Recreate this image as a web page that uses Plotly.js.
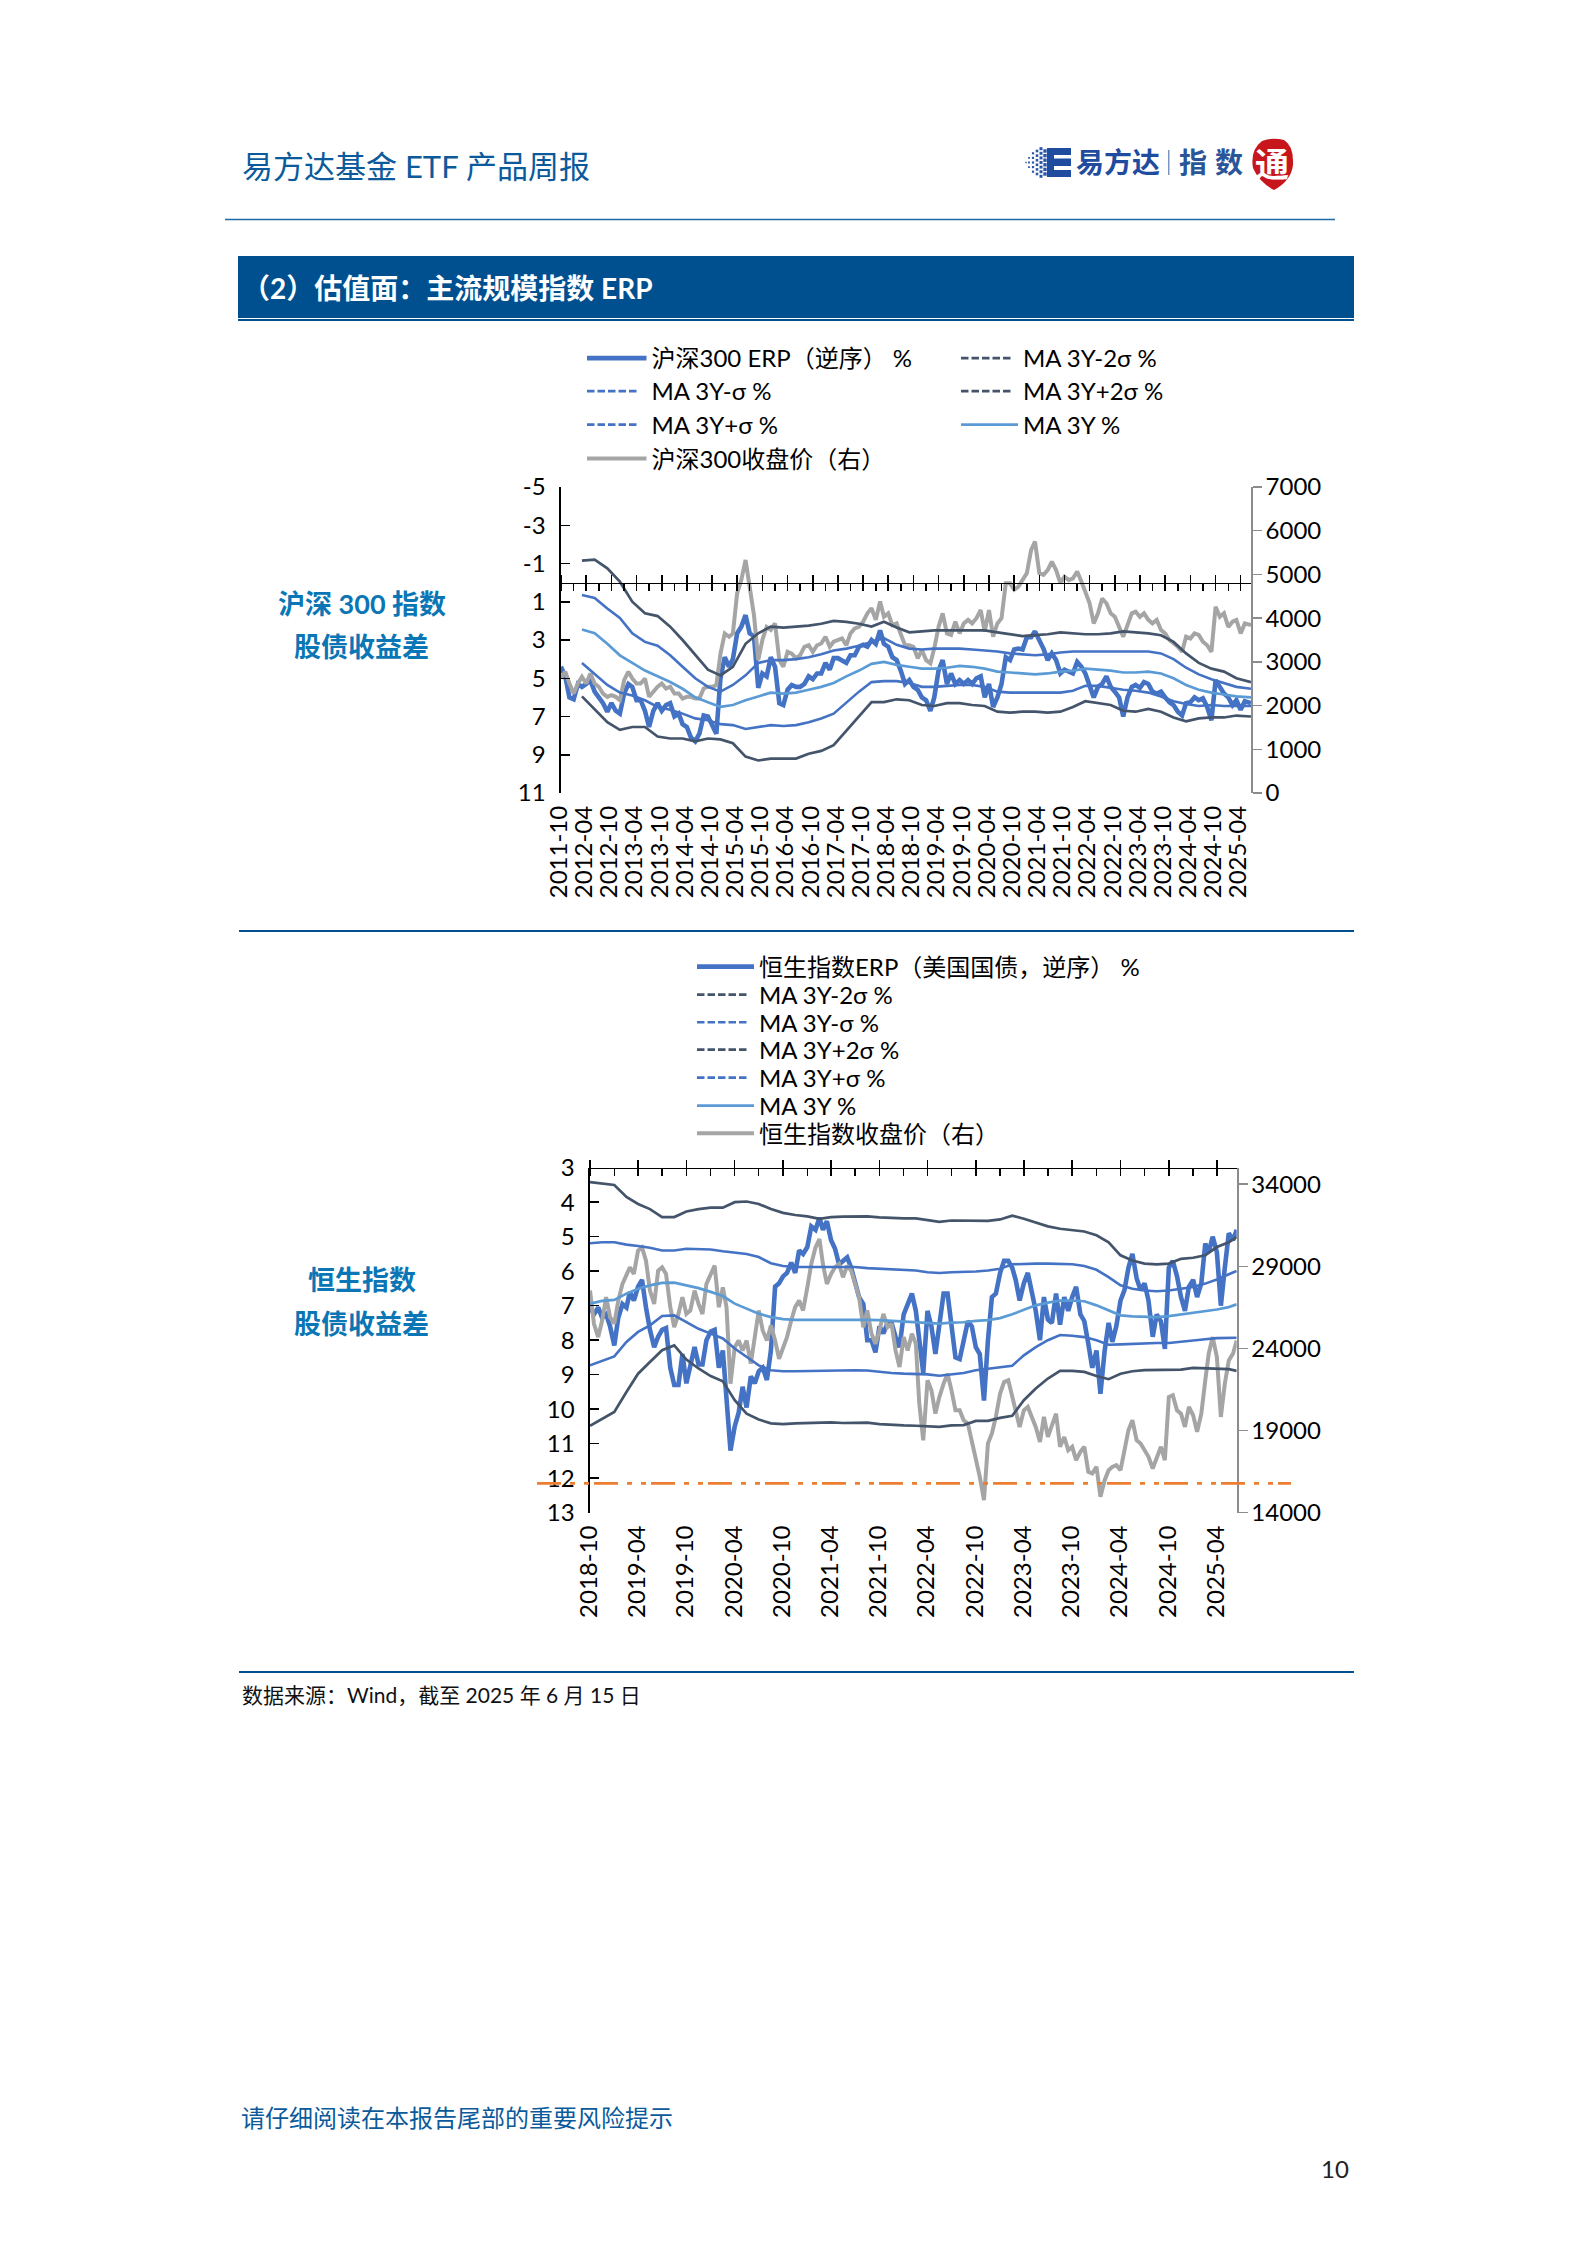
<!DOCTYPE html>
<html>
<head>
<meta charset="utf-8">
<script src="https://cdn.plot.ly/plotly-3.0.1.min.js"></script>
<style>
html,body{margin:0;padding:0;background:#fff}
/* legend samples for the bands are dashed in the reference although the plotted lines are solid */
g.legend2 path.js-line,g.legend3 path.js-line,g.legend4 path.js-line,g.legend5 path.js-line,
g.legend9 path.js-line,g.legend10 path.js-line,g.legend11 path.js-line,g.legend12 path.js-line{
  stroke-dasharray:7.5 3 7.5 3 7.5 3 7.5 3 7.5 80 !important;
}
</style>
</head>
<body>
<div id="page" style="width:1587px;height:2245px"></div>
<script>
// ---------- chart 1: 沪深300 ----------
const csiErp = [4.4,4.9,6.0,6.1,5.3,5.45,5.3,5.1,5.7,6.0,
6.3,6.75,6.3,6.7,6.85,5.8,5.3,5.45,6.15,6.15,
6.7,7.55,6.7,6.3,6.7,6.4,6.3,7.0,6.85,7.4,
7.55,8.1,8.3,7.9,6.95,7.0,7.5,7.9,5.0,3.9,
4.4,4.0,2.65,2.3,1.7,2.65,2.8,5.5,4.75,4.9,
3.9,4.4,6.3,6.4,5.6,5.35,5.45,5.45,5.3,4.9,
5.05,4.75,4.75,4.2,4.55,3.95,3.95,4.05,4.2,3.8,
3.8,3.35,3.25,3.35,3.0,3.2,2.5,3.2,3.35,3.9,
4.05,4.6,5.3,5.1,5.45,5.6,6.0,6.15,6.7,6.0,
4.6,4.05,5.3,4.75,5.3,5.1,5.3,5.1,5.3,5.0,
4.9,6.0,5.3,6.5,6.0,5.3,3.9,4.05,3.5,3.45,
3.5,2.85,2.85,2.55,3.0,3.45,4.05,3.7,4.05,4.75,
4.55,4.65,4.75,4.15,4.4,4.75,5.45,6.0,5.45,5.3,
4.9,5.45,5.7,6.0,7.0,6.0,5.45,5.35,5.5,5.2,
5.3,5.7,5.8,5.7,6.0,6.25,6.4,6.75,6.95,
6.3,6.25,6.0,6.15,6.05,6.5,7.2,5.1,5.45,5.8,
6.0,6.4,6.15,6.65,6.2,6.3];
const csiPrice = [2620,2775,2505,2275,2505,2660,2505,2735,2505,2430,
2275,2200,2240,2200,2125,2580,2775,2620,2505,2505,
2620,2200,2315,2430,2505,2390,2430,2275,2275,2160,
2200,2200,2160,2160,2390,2430,2430,2465,3190,3650,
3575,3650,4570,4870,5330,4720,4070,3040,3500,3800,
3730,3880,3040,2890,3230,3190,3080,3155,3345,3380,
3230,3380,3420,3575,3345,3460,3500,3535,3380,3650,
3765,3800,3920,4110,4225,3960,4380,4030,4110,3840,
3880,3650,3380,3380,3345,3080,3270,3040,2965,3310,
3800,4110,3650,3615,3920,3650,3880,3960,3880,4000,
4185,3690,4185,3575,3880,4000,4800,4800,4650,4720,
4870,5030,5560,5750,5030,4990,5100,5290,5100,4800,
4950,4870,4910,5065,4835,4570,4340,3880,4110,4450,
4340,4110,4030,3800,3575,3840,4110,4150,4030,4110,
3960,3880,3960,3730,3650,3500,3420,3345,3230,
3575,3535,3650,3615,3460,3380,3230,4260,4030,4110,
3800,3920,3960,3650,3880,3840];
const csiMinus2 = [-1.15,-1.2,-0.75,-0.05,1.0,1.6,1.75,2.3,3.0,3.8,4.55,4.85,4.4,3.2,2.65,2.3,2.35,2.3,2.25,2.15,2.0,2.05,2.15,2.3,2.05,2.35,2.6,2.55,2.5,2.5,2.5,2.5,2.5,2.6,2.7,2.8,2.75,2.7,2.6,2.65,2.7,2.7,2.65,2.55,2.6,2.65,2.75,3.1,3.7,4.2,4.5,4.65,5.0,5.2];
const csiMinus1 = [0.65,0.8,1.35,1.85,2.65,3.1,3.3,3.8,4.4,5.0,5.45,5.7,5.35,4.85,4.2,4.05,4.05,4.0,3.9,3.75,3.55,3.45,3.3,3.1,2.9,3.25,3.45,3.5,3.45,3.45,3.45,3.5,3.55,3.6,3.7,3.75,3.8,3.75,3.65,3.6,3.6,3.6,3.6,3.6,3.6,3.6,3.7,4.0,4.45,4.8,5.05,5.25,5.45,5.55];
const csiPlus2 = [5.95,6.65,7.3,7.7,7.55,7.55,8.05,8.15,8.15,8.3,8.15,8.2,8.4,9.1,9.3,9.2,9.2,9.2,8.95,8.8,8.5,7.75,7.0,6.25,6.25,6.1,6.15,6.4,6.45,6.3,6.3,6.4,6.45,6.75,6.8,6.75,6.75,6.8,6.75,6.5,6.2,6.3,6.4,6.7,6.75,6.6,6.75,7.05,7.25,7.1,7.05,7.05,6.95,7.0];
const csiPlus1 = [4.2,4.75,5.35,5.75,5.9,6.15,6.5,6.65,6.85,7.1,7.2,7.4,7.45,7.65,7.55,7.45,7.5,7.45,7.3,7.1,6.85,6.25,5.7,5.2,5.15,5.15,5.25,5.45,5.45,5.4,5.35,5.35,5.45,5.7,5.75,5.75,5.75,5.75,5.75,5.65,5.4,5.4,5.5,5.6,5.65,5.75,5.95,6.2,6.35,6.45,6.4,6.45,6.45,6.45];
const csiMean = [2.45,2.65,3.2,3.8,4.2,4.6,4.9,5.2,5.55,6.0,6.25,6.5,6.4,6.15,5.95,5.75,5.8,5.75,5.6,5.45,5.25,4.9,4.6,4.25,4.15,4.3,4.4,4.5,4.5,4.45,4.35,4.4,4.5,4.65,4.7,4.75,4.8,4.75,4.65,4.6,4.5,4.55,4.6,4.7,4.7,4.65,4.75,5.0,5.35,5.6,5.75,5.85,5.95,6.0];
const csiLeftTicks = [-5,-3,-1,1,3,5,7,9,11];
const csiRightTicks = [0,1000,2000,3000,4000,5000,6000,7000];

// ---------- chart 2: 恒生指数 ----------
const hsiErp = [7.05,7.25,7.05,7.35,7.25,7.6,8.15,7.35,6.95,7.05,
6.6,6.85,6.45,6.25,7.05,7.7,8.2,7.9,7.7,7.65,
8.8,9.3,9.3,8.4,9.25,8.7,8.2,8.7,8.7,8.0,
7.75,7.7,8.8,8.3,9.75,11.2,10.5,10.1,9.35,9.95,
9.05,9.25,8.9,8.8,9.15,8.3,6.45,6.35,6.15,6.05,
5.75,6.05,5.4,5.5,5.3,4.7,4.8,4.45,4.8,4.55,
5.1,5.35,5.8,5.7,5.6,5.9,6.35,6.75,6.95,8.0,
8.0,8.35,7.6,7.8,7.5,7.5,7.9,8.2,7.25,6.95,
6.65,7.15,7.9,8.95,7.15,7.6,8.4,7.5,6.65,6.65,
7.6,8.5,8.55,8.0,7.45,7.6,8.2,8.4,9.75,8.0,
6.75,6.65,6.05,5.7,5.7,5.9,6.25,6.85,6.35,6.05,
6.65,7.15,8.0,6.75,7.4,7.5,6.65,7.55,6.75,7.15,
6.75,6.45,7.25,7.45,8.1,8.8,8.3,9.55,8.3,7.5,
8.05,7.6,6.85,6.55,5.9,5.5,6.2,6.55,6.35,6.85,
7.9,7.25,7.45,8.25,5.9,5.7,6.15,6.75,7.15,6.45,
6.25,6.75,6.35,5.2,5.45,5.0,5.45,7.0,5.9,4.9,
5.1,4.8];
const hsiPrice = [27520,25500,24690,25700,27120,25900,25500,26910,27930,28530,
28940,28530,29950,30150,29340,27520,26710,28730,28940,28530,
26510,25290,26100,27120,26100,26310,27520,26710,26100,27930,
28530,29040,26510,27720,26510,21850,24080,24480,23880,24480,
23070,24890,26310,25090,24480,25400,24480,23370,24080,24690,
25700,26510,26910,26310,27720,29140,30150,30660,29140,27930,
28530,28940,29140,28330,29040,28730,27930,27120,25290,26310,
24890,24280,25090,26100,25290,25500,23880,22870,24690,23880,
24890,24280,20640,18410,22060,21450,20030,21040,21850,22460,
21450,20230,20230,19630,19420,18410,17200,16190,14770,18210,
18820,19830,21250,21950,22060,21040,20030,19220,20230,20440,
19830,19220,18310,19830,18610,19220,20030,18010,18610,17800,
18010,17200,17700,18010,16490,16390,16790,14970,15980,16590,
16790,16890,16590,17800,19020,19630,18410,18210,17800,17400,
16690,17400,18010,17200,21040,21150,20230,20030,19220,20440,
19930,18920,20030,22060,23680,24690,23470,19830,21850,23270,
23680,24480];
const hsiMinus2 = [3.42,3.45,3.5,3.85,4.05,4.2,4.43,4.43,4.27,4.2,4.16,4.16,4.0,3.98,4.05,4.2,4.31,4.37,4.41,4.48,4.43,4.42,4.41,4.41,4.44,4.46,4.47,4.47,4.51,4.57,4.53,4.54,4.54,4.54,4.5,4.39,4.48,4.58,4.7,4.77,4.8,4.85,4.96,5.16,5.54,5.69,5.78,5.8,5.78,5.64,5.61,5.54,5.3,5.16,5.01];
const hsiMinus1 = [5.19,5.16,5.16,5.23,5.27,5.32,5.4,5.4,5.35,5.35,5.37,5.42,5.45,5.5,5.59,5.77,5.85,5.88,5.88,5.88,5.88,5.88,5.88,5.91,5.93,5.94,5.96,5.98,6.03,6.05,6.03,6.03,6.01,5.98,5.93,5.8,5.78,5.78,5.78,5.79,5.8,5.85,5.96,6.17,6.41,6.51,6.56,6.58,6.56,6.51,6.46,6.36,6.24,6.09,5.99];
const hsiPlus2 = [10.48,10.27,10.08,9.5,8.97,8.63,8.29,8.15,8.56,8.82,9.04,9.19,9.74,10.13,10.3,10.41,10.43,10.41,10.4,10.37,10.38,10.4,10.4,10.39,10.43,10.46,10.47,10.48,10.49,10.51,10.47,10.46,10.34,10.34,10.25,10.19,9.74,9.4,9.11,8.89,8.89,8.92,9.04,9.13,8.97,8.9,8.87,8.86,8.85,8.85,8.8,8.82,8.84,8.84,8.89];
const hsiPlus1 = [8.73,8.6,8.47,8.05,7.76,7.57,7.3,7.28,7.47,7.67,7.81,7.95,8.24,8.49,8.73,8.87,8.9,8.9,8.89,8.88,8.88,8.87,8.87,8.88,8.92,8.95,8.97,8.97,8.99,9.03,9.0,8.95,8.87,8.82,8.79,8.74,8.44,8.2,8.0,7.85,7.87,7.91,8.0,8.13,8.12,8.1,8.08,8.08,8.08,8.04,7.99,7.97,7.94,7.93,7.93];
const hsiMean = [6.94,6.86,6.83,6.65,6.51,6.41,6.34,6.33,6.41,6.49,6.6,6.72,6.94,7.09,7.23,7.33,7.39,7.41,7.41,7.41,7.41,7.41,7.39,7.41,7.42,7.44,7.47,7.49,7.51,7.52,7.49,7.48,7.44,7.42,7.36,7.25,7.12,6.99,6.91,6.85,6.85,6.87,6.99,7.13,7.28,7.31,7.33,7.33,7.3,7.25,7.21,7.16,7.11,7.04,6.96];
const hsiLeftTicks = [3,4,5,6,7,8,9,10,11,12,13];
const hsiRightTicks = [14000,19000,24000,29000,34000];
const hsiFloorLevel = 12.15;

// ---------- labels ----------
const csiNames = ['沪深300 ERP（逆序） %','MA 3Y-2σ %','MA 3Y-σ %','MA 3Y+2σ %','MA 3Y+σ %','MA 3Y %','沪深300收盘价（右）'];
const hsiNames = ['恒生指数ERP（美国国债，逆序） %','MA 3Y-2σ %','MA 3Y-σ %','MA 3Y+2σ %','MA 3Y+σ %','MA 3Y %','恒生指数收盘价（右）'];

// ---------- helpers ----------
const W = 1587, H = 2245;
const px = x => x / W, py = y => 1 - y / H;
const pad = n => String(n).padStart(2, '0');
function monthly(y, m, n, stepMonths, end) {
  const out = [];
  for (let i = 0; i < n; i++) {
    const t = y * 12 + (m - 1) + i * stepMonths;
    out.push(Math.floor(t / 12) + '-' + pad(t % 12 + 1) + '-01');
  }
  if (end) out[n - 1] = end;
  return out;
}
function halfMonthly(y, m, n, stepHalf, end) {
  const out = [];
  for (let i = 0; i < n; i++) {
    const h = (y * 12 + (m - 1)) * 2 + i * stepHalf;
    const t = Math.floor(h / 2);
    out.push(Math.floor(t / 12) + '-' + pad(t % 12 + 1) + (h % 2 ? '-16' : '-01'));
  }
  if (end) out[n - 1] = end;
  return out;
}
const csiDaily = monthly(2011, 10, csiErp.length, 1, '2025-06-15');
const csiBand = monthly(2012, 3, csiMean.length, 3, '2025-06-15');
const hsiDaily = halfMonthly(2018, 10, hsiErp.length, 1, '2025-06-15');
const hsiBand = halfMonthly(2018, 10, hsiMean.length, 3, '2025-06-15');

const FONT = 'Lato, "Noto Sans CJK SC", sans-serif';
const COL = {erp:'#4472C4', dark:'#44546A', mid:'#4472C4', light:'#5B9BD5', gray:'#A5A5A5'};
const st = [
  {color:COL.erp, width:4.6},{color:COL.dark, width:2.7},{color:COL.mid, width:2.6},
  {color:COL.dark, width:2.7},{color:COL.mid, width:2.6},{color:COL.light, width:2.7},{color:COL.gray, width:4}
];
const legendId = i => i === 0 ? 'legend' : 'legend' + (i + 1);

function series(names, xa, xb, ya, ya2, daily, band, erp, bands, price, offset) {
  const out = [];
  out.push({x:daily, y:erp, name:names[0], xaxis:xa, yaxis:ya});
  bands.forEach((b, i) => out.push({x:band, y:b, name:names[i + 1], xaxis:xb, yaxis:ya}));
  out.push({x:daily, y:price, name:names[6], xaxis:xa, yaxis:ya2});
  out.forEach((t, i) => {
    t.type = 'scatter'; t.mode = 'lines'; t.line = Object.assign({}, st[i]);
    t.legend = legendId(i + offset); t.showlegend = true; t.hoverinfo = 'skip';
  });
  return out;
}
const traces = series(csiNames,'x','x2','y','y2',csiDaily,csiBand,csiErp,[csiMinus2,csiMinus1,csiPlus2,csiPlus1,csiMean],csiPrice,0)
  .concat(series(hsiNames,'x3','x4','y3','y4',hsiDaily,hsiBand,hsiErp,[hsiMinus2,hsiMinus1,hsiPlus2,hsiPlus1,hsiMean],hsiPrice,7));

const layout = {
  width:W, height:H, autosize:false, paper_bgcolor:'#fff', plot_bgcolor:'rgba(0,0,0,0)',
  margin:{l:0,r:0,t:0,b:0}, font:{family:FONT, size:24, color:'#000'}, showlegend:true, hovermode:false
};

// legends: each entry placed on its own row/column
const LEGW = 57;
const csiLegendPos = [[587,358.5],[961,358.5],[587,391.5],[961,391.5],[587,425],[961,425],[587,459]];
const hsiLegendPos = [[697,967],[697,995],[697,1022.7],[697,1050],[697,1078],[697,1106],[697,1133.7]];
csiLegendPos.concat(hsiLegendPos).forEach((p, i) => {
  const nudge = i < 7 && i % 2 === 0 ? 2.5 : 0;
  layout[legendId(i)] = {x:px(p[0]-5), y:py(p[1]), xanchor:'left', yanchor:'middle', bgcolor:'rgba(0,0,0,0)',
    borderwidth:0, itemwidth:LEGW + nudge, font:{size:24, family:FONT, color:'#000'}, itemclick:false, itemdoubleclick:false};
});

const tickFont = {size:24, family:FONT, color:'#000'};
function axes(xLabel, xLine, yL, yR, xDom, yDom, start, end, linePos, leftCfg, rightCfg) {
  const dom = [px(xDom[0]), px(xDom[1])], vdom = [py(yDom[1]), py(yDom[0])];
  layout[xLabel[0]] = {domain:dom, type:'date', range:[start,end], anchor:xLabel[1], side:'bottom', showline:false, showgrid:false, zeroline:false,
    ticks:'', tick0:start, dtick:'M6', tickformat:'%Y-%m', tickangle:-90, ticklabelstandoff:7, ticklabelshift:-2, tickfont:tickFont};
  layout[xLine] = {domain:dom, type:'date', range:[start,end], overlaying:xLabel[2], anchor:'free', position:linePos, side:'top', showline:true, linecolor:'#000', linewidth:1.6,
    showgrid:false, zeroline:false, showticklabels:false, ticks:'outside', ticklen:8, tickwidth:1.5, tickcolor:'#000', tick0:start, dtick:'M6',
    minor:{ticks:'inside', ticklen:7, tickwidth:1.5, tickcolor:'#000', dtick:'M3', tick0:start, showgrid:false}};
  layout[yL] = Object.assign({domain:vdom, anchor:xLabel[2], side:'left', showline:true, linecolor:'#000', linewidth:1.6, showgrid:false, zeroline:false,
    ticks:'inside', ticklen:9, tickwidth:1.5, tickcolor:'#000', ticklabelstandoff:9, tickfont:tickFont, tickmode:'array'}, leftCfg);
  layout[yR] = Object.assign({domain:vdom, anchor:xLabel[2], overlaying:xLabel[1], side:'right', showline:true, linecolor:'#8C8C8C', linewidth:1.8, showgrid:false, zeroline:false,
    ticks:'outside', ticklen:9, tickwidth:1.5, tickcolor:'#8C8C8C', ticklabelstandoff:-1, tickfont:tickFont, tickmode:'array'}, rightCfg);
}
axes(['xaxis','y','x'],'xaxis2','yaxis','yaxis2',[561,1251],[487,793],'2011-10-01','2025-06-15',py(582.6),
  {range:[11,-5], tickvals:csiLeftTicks, ticktext:csiLeftTicks.map(String)},
  {range:[0,7000], tickvals:csiRightTicks, ticktext:csiRightTicks.map(String)});
axes(['xaxis3','y3','x3'],'xaxis4','yaxis3','yaxis4',[590,1236.7],[1167.7,1512.7],'2018-10-01','2025-06-15',py(1167.7),
  {range:[13,3], tickvals:hsiLeftTicks, ticktext:hsiLeftTicks.map(String)},
  {range:[14000,35000], tickvals:hsiRightTicks, ticktext:hsiRightTicks.map(String)});
layout.yaxis2.overlaying = 'y';
layout.yaxis4.overlaying = 'y3';
layout.xaxis3.ticklabelshift = -1;

// page furniture
const BLUE = '#00508F';
const rect = (x0,y0,x1,y1,c) => ({type:'rect', xref:'paper', yref:'paper', x0:px(x0), x1:px(x1), y0:py(y0), y1:py(y1), fillcolor:c, line:{width:0}, layer:'below'});
const hline = (x0,x1,y,c,w) => ({type:'line', xref:'paper', yref:'paper', x0:px(x0), x1:px(x1), y0:py(y), y1:py(y), line:{color:c,width:w}, layer:'below'});
const shapes = [
  hline(225,1335,219.5,'#1E6AA6',1.4),
  rect(238,256,1354,318,BLUE),
  hline(238,1354,320,BLUE,2),
  hline(239,1354,931,BLUE,2),
  hline(239,1354,1672,BLUE,2),
  {type:'line', xref:'paper', yref:'y3', x0:px(537), x1:px(1291), y0:hsiFloorLevel, y1:hsiFloorLevel, line:{color:'#ED7D31',width:2.8,dash:'24px,9px,5px,9px,5px,5px'}, layer:'above'},
  // logo: E mark
  rect(1047,148,1071,155,'#1F4C9E'), rect(1047,158.5,1071,166,'#1F4C9E'), rect(1047,170,1071,177,'#1F4C9E'), rect(1047,148,1054,177,'#1F4C9E'),
  rect(1168,150,1169.5,175,'#7C95BF'),
  // logo: seal
  {type:'path', xref:'paper', yref:'paper', fillcolor:'#C8161D', line:{width:0}, layer:'below',
   path:`M ${px(1262)} ${py(141)} Q ${px(1272)} ${py(137)} ${px(1284)} ${py(140)} Q ${px(1294)} ${py(146)} ${px(1293)} ${py(165)} Q ${px(1291)} ${py(181)} ${px(1274)} ${py(190)} Q ${px(1259)} ${py(182)} ${px(1253)} ${py(168)} Q ${px(1250)} ${py(150)} ${px(1262)} ${py(141)} Z`}
];
// logo: dither dots next to the E
[[1045,6,3.4],[1041,7,3.0],[1037,6,2.6],[1033,5,2.2],[1029,3,1.8],[1026,1,1.4]].forEach(c => {
  for (let i = 0; i < c[1]; i++) {
    const cy = 162.5 + (i - (c[1]-1)/2) * 4.6, s = c[2];
    shapes.push(rect(c[0]-s/2, cy-s/2, c[0]+s/2, cy+s/2, '#2B57A8'));
  }
});
layout.shapes = shapes;

const note = (x,y,text,size,color,bold,anchor) => ({xref:'paper', yref:'paper', x:px(x), y:py(y), text:bold?'<b>'+text+'</b>':text, showarrow:false,
  xanchor:anchor||'left', yanchor:'middle', align:anchor||'left', font:{size:size,color:color,family:FONT}});
layout.annotations = [
  note(239.5,165.5,'易方达基金 ETF 产品周报',31,'#0B5A9B',false),
  note(240,288,'（2）估值面：主流规模指数 ERP',28,'#FFFFFF',true),
  note(361.5,603,'沪深 300 指数',27,'#0B76B5',true,'center'),
  note(361.5,646.5,'股债收益差',27,'#0B76B5',true,'center'),
  note(361.5,1279,'恒生指数',27,'#0B76B5',true,'center'),
  note(361.5,1323,'股债收益差',27,'#0B76B5',true,'center'),
  note(239.5,1694,'数据来源：Wind，截至 2025 年 6 月 15 日',21,'#111',false),
  note(238.5,2117.5,'请仔细阅读在本报告尾部的重要风险提示',24,'#0B5A9B',false),
  note(1335,2168,'10',24,'#222',false,'center'),
  note(1118,162,'易方达',28,'#1F4C9E',true,'center'),
  note(1193,162,'指',28,'#2A5599',true,'center'),
  note(1229,162,'数',28,'#2A5599',true,'center'),
  note(1272,164,'通',34,'#FFFFFF',true,'center')
];

Plotly.newPlot('page', traces, layout, {staticPlot:true, displayModeBar:false});
</script>
</body>
</html>
